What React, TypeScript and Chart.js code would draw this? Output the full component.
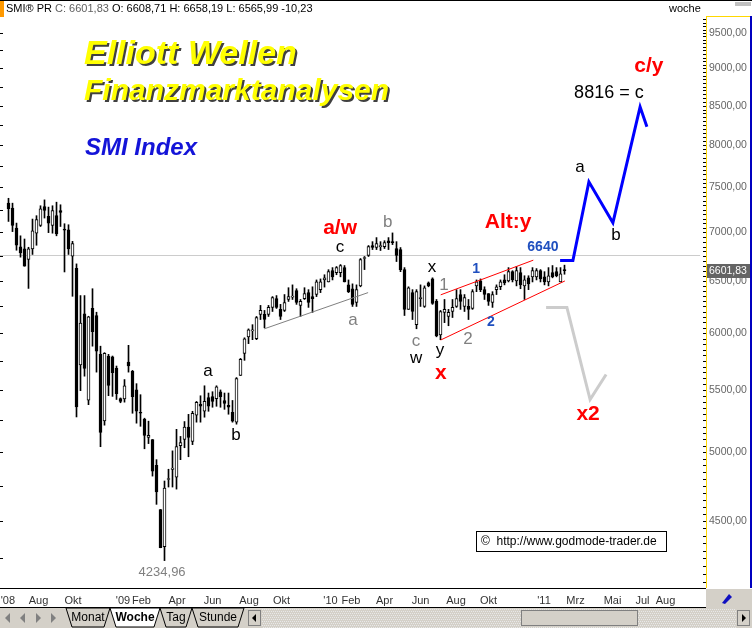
import React, { useEffect, useRef } from 'react';
import { Chart, registerables } from 'chart.js';

Chart.register(...registerables);

// Weekly SMI candles, week index 0 = week of 9 June 2008
const weekOpen = [7321,7266,7046,6847,6826,6716,6826,6992,7075,7284,7174,7075,7182,7237,7035,7028,6750,6626,5714,6180,5414,6231,6164,5808,5245,5793,5787,5685,5428,5425,5740,5658,5500,5315,5259,5114,5098,4900,4580,4326,4795,4870,4813,5050,5098,5195,5082,5291,5380,5323,5436,5444,5426,5484,5412,5372,5315,5235,5623,5816,5966,6020,5948,6174,6174,6174,6241,6326,6222,6212,6317,6340,6403,6260,6326,6384,6345,6365,6413,6509,6489,6602,6582,6582,6633,6460,6422,6288,6450,6726,6757,6861,6840,6850,6850,6912,6902,6830,6819,6612,6222,6384,6078,6326,6250,6479,6520,6298,5983,6193,6155,6202,6250,6365,6250,6250,6231,6450,6499,6413,6374,6288,6413,6441,6509,6499,6592,6499,6582,6450,6530,6540,6540,6602,6540,6489,6582,6592,6489,6609];
const weekHigh = [7376,7321,7101,6964,6930,6843,7145,7182,7292,7358,7277,7292,7332,7303,7094,7083,6905,6671,6355,6355,6157,6422,6195,5881,5823,5808,5793,5705,5433,5588,5889,5667,5553,5460,5267,5243,5098,4943,4580,4784,4871,5010,5178,5122,5240,5298,5323,5404,5451,5535,5474,5485,5535,5500,5474,5474,5412,5605,5772,5957,6039,6078,6155,6260,6212,6260,6345,6355,6270,6365,6432,6460,6422,6317,6432,6413,6441,6509,6519,6561,6612,6633,6644,6664,6654,6509,6470,6460,6726,6747,6861,6902,6945,6902,6912,6945,6995,6902,6840,6633,6441,6413,6413,6460,6450,6489,6530,6317,6212,6317,6222,6317,6413,6413,6365,6317,6413,6509,6519,6441,6374,6393,6460,6509,6561,6633,6602,6644,6633,6551,6551,6633,6623,6613,6592,6633,6654,6633,6633,6658];
const weekLow = [7119,7009,6812,6740,6647,6425,6768,6864,7064,7156,6998,6992,6964,7064,6589,6768,6348,5277,5494,5617,5377,5881,5652,5042,5211,5452,5446,5420,5393,5398,5652,5307,5227,5202,5026,5066,4820,4616,4319,4235,4740,4740,4725,4943,5034,4965,5058,5235,5235,5275,5323,5356,5364,5356,5339,5299,5235,5219,5623,5755,5904,5940,5940,6126,6049,6155,6202,6231,6126,6202,6298,6317,6270,6155,6317,6241,6193,6345,6384,6438,6489,6509,6561,6540,6489,6384,6250,6250,6441,6613,6747,6819,6819,6809,6830,6819,6871,6695,6592,6164,6222,6126,6040,6250,6241,6441,6270,5966,5940,6097,6068,6145,6241,6222,6202,6126,6222,6393,6393,6317,6260,6241,6365,6413,6460,6489,6489,6450,6422,6317,6413,6489,6509,6489,6460,6450,6530,6540,6489,6566];
const weekClose = [7259,7075,6864,6785,6647,6826,7017,7138,7259,7240,7101,7237,6985,7218,7024,6826,6881,5358,6094,5685,6151,6013,5837,5154,5816,5538,5647,5468,5404,5535,5705,5444,5323,5307,5130,5130,4856,4704,4319,4733,4800,4880,5042,5074,5195,5114,5307,5396,5364,5404,5364,5404,5526,5444,5388,5356,5243,5597,5764,5948,6030,6030,6145,6212,6126,6241,6336,6241,6155,6288,6345,6348,6288,6298,6374,6288,6326,6489,6489,6530,6592,6540,6633,6654,6489,6393,6270,6413,6716,6736,6850,6840,6881,6861,6892,6892,6892,6757,6612,6222,6432,6202,6393,6336,6432,6450,6279,5974,6202,6222,6193,6241,6326,6298,6336,6222,6393,6489,6413,6365,6298,6365,6441,6489,6479,6592,6509,6602,6460,6509,6470,6602,6602,6519,6489,6551,6540,6551,6571,6602];

// x-axis month labels (position in weeks)
const monthTickWeeks = [-0.15, 7.5, 16.125, 28.625, 33.25, 42.125, 51, 60.125, 68.25, 80.5, 85.625, 94, 103, 111.875, 120, 133.875, 141.75, 151, 158.5, 164.25];
const monthTickLabels = ["'08", 'Aug', 'Okt', "'09", 'Feb', 'Apr', 'Jun', 'Aug', 'Okt', "'10", 'Feb', 'Apr', 'Jun', 'Aug', 'Okt', "'11", 'Mrz', 'Mai', 'Jul', 'Aug'];
const priceTicks = [4500, 5000, 5500, 6000, 6500, 7000, 7500, 8000, 8500, 9000, 9500];

// drawn lines (week, level)
const supportWeeks = [63.9, 89.9];
const supportLevels = [6039, 6384];
const channelUpperWeeks = [108.05, 131.2];
const channelUpperLevels = [6362, 6709];
const channelLowerWeeks = [108.05, 139.1];
const channelLowerLevels = [5937, 6499];
const bluePathWeeks = [137.9, 141.1, 145.1, 151.1, 157.9, 159.6];
const bluePathLevels = [6706, 6706, 7564, 7105, 8484, 8231];
const grayPathWeeks = [134.4, 139.6, 145.4, 149.4];
const grayPathLevels = [6240, 6240, 5420, 5632];
const refLineWeeks = [-2.2, 172.9];
const refLineLevels = [6757, 6757];

// wave labels: text, week, level, style
const waveLabels = [
  { t: '4234,96', w: 38.4, v: 4162, s: 'low' },
  { t: 'a', w: 49.9, v: 5658, s: 'k' },
  { t: 'b', w: 56.9, v: 5130, s: 'k' },
  { t: 'c', w: 82.9, v: 6840, s: 'k' },
  { t: 'a/w', w: 82.9, v: 7050, s: 'r' },
  { t: 'a', w: 86.1, v: 6116, s: 'g' },
  { t: 'b', w: 94.8, v: 7110, s: 'g' },
  { t: 'c', w: 101.9, v: 5925, s: 'g' },
  { t: 'w', w: 101.9, v: 5770, s: 'k' },
  { t: 'x', w: 105.9, v: 6633, s: 'k' },
  { t: 'y', w: 107.9, v: 5843, s: 'k' },
  { t: 'x', w: 108.1, v: 5640, s: 'r' },
  { t: '1', w: 108.9, v: 6460, s: 'g' },
  { t: '1', w: 116.9, v: 6613, s: 'b' },
  { t: '2', w: 120.6, v: 6106, s: 'b' },
  { t: '2', w: 114.9, v: 5940, s: 'g' },
  { t: 'Alt:y', w: 124.9, v: 7115, s: 'r' },
  { t: '6640', w: 133.6, v: 6840, s: 'b' },
  { t: 'a', w: 142.9, v: 7730, s: 'k' },
  { t: 'b', w: 151.9, v: 6965, s: 'k' },
  { t: '8816 = c', w: 150.1, v: 8670, s: 'kl' },
  { t: 'c/y', w: 160.1, v: 9034, s: 'r' },
  { t: 'x2', w: 144.9, v: 5300, s: 'r' },
];

const FONT = '"Liberation Sans", Arial, Helvetica, sans-serif';

const labelStyles: Record<string, { font: string; color: string }> = {
  low: { font: `13px ${FONT}`, color: '#808080' },
  k: { font: `17px ${FONT}`, color: '#000000' },
  kl: { font: `18px ${FONT}`, color: '#000000' },
  g: { font: `17px ${FONT}`, color: '#808080' },
  r: { font: `bold 21px ${FONT}`, color: '#ff0000' },
  b: { font: `bold 14px ${FONT}`, color: '#1f4fbf' },
};

const xy = (ws: number[], vs: number[]) => ws.map((w, i) => ({ x: w, y: vs[i] }));

export default function App() {
  const ref = useRef<HTMLCanvasElement>(null);
  useEffect(() => {
    document.body.style.margin = '0';
    const canvas = ref.current!;
    const up = weekClose.map((c, i) => c >= weekOpen[i]);

    const decor = {
      id: 'decor',
      beforeDraw(chart: any) {
        const ctx = chart.ctx;
        ctx.save();
        ctx.fillStyle = '#ffffff';
        ctx.fillRect(0, 0, 752, 628);
        ctx.restore();
      },
      afterDatasetsDraw(chart: any) {
        const ctx = chart.ctx;
        const xs = chart.scales.x;
        const ys = chart.scales.y;
        ctx.save();
        ctx.textAlign = 'center';
        ctx.textBaseline = 'middle';
        for (const l of waveLabels) {
          const st = labelStyles[l.s];
          ctx.font = st.font;
          ctx.fillStyle = st.color;
          ctx.fillText(l.t, xs.getPixelForValue(l.w), ys.getPixelForValue(l.v));
        }
        // titles
        ctx.textAlign = 'left';
        ctx.textBaseline = 'alphabetic';
        const shadowText = (t: string, x: number, y: number, font: string, col: string) => {
          ctx.font = font;
          ctx.fillStyle = '#404040';
          ctx.fillText(t, x + 2, y + 2);
          ctx.fillStyle = col;
          ctx.fillText(t, x, y);
        };
        shadowText('Elliott Wellen', 84, 64, `italic bold 34px ${FONT}`, '#ffff00');
        shadowText('Finanzmarktanalysen', 84, 100, `italic bold 30px ${FONT}`, '#ffff00');
        ctx.font = `italic bold 24px ${FONT}`;
        ctx.fillStyle = '#1414d8';
        ctx.fillText('SMI Index', 85, 155);
        // copyright box
        ctx.fillStyle = '#ffffff';
        ctx.fillRect(476, 531, 190, 20);
        ctx.strokeStyle = '#000000';
        ctx.lineWidth = 1;
        ctx.strokeRect(476.5, 531.5, 190, 20);
        ctx.font = `12px ${FONT}`;
        ctx.fillStyle = '#000000';
        ctx.textBaseline = 'middle';
        ctx.fillText('\u00a9  http://www.godmode-trader.de', 481, 542);
        ctx.restore();
      },
      afterDraw(chart: any) {
        const ctx = chart.ctx;
        const ys = chart.scales.y;
        const area = chart.chartArea;
        ctx.save();
        // header
        ctx.fillStyle = '#ff9900';
        ctx.fillRect(0, 1, 4, 16);
        ctx.fillStyle = '#000000';
        ctx.fillRect(0, 0, 752, 1);
        ctx.font = `11px ${FONT}`;
        ctx.textBaseline = 'middle';
        ctx.textAlign = 'left';
        let x = 6;
        const part = (t: string, c: string) => {
          ctx.fillStyle = c;
          ctx.fillText(t, x, 9);
          x += ctx.measureText(t).width;
        };
        part('SMI\u00ae PR ', '#000000');
        part('C: 6601,83 ', '#606060');
        part('O: 6608,71 H: 6658,19 L: 6565,99 -10,23', '#000000');
        ctx.fillStyle = '#000000';
        ctx.fillText('woche', 669, 9);
        ctx.fillStyle = '#c0c0c0';
        ctx.fillRect(735, 2, 16, 4);
        // right axis frame
        ctx.fillStyle = '#ffd700';
        ctx.fillRect(706, 16, 1, area.bottom - 16);
        ctx.fillRect(706, 16, 45, 1);
        ctx.fillStyle = '#0000c0';
        ctx.fillRect(750, 16, 2, area.bottom - 16);
        // minor ticks
        ctx.fillStyle = '#000000';
        for (let v = 4100; v <= 9700; v += 50) {
          const py = Math.round(ys.getPixelForValue(v));
          if (py < area.top || py > area.bottom) continue;
          ctx.fillRect(703, py, 3, 1);
        }
        for (let v = 4250; v <= 9750; v += 250) {
          const py = Math.round(ys.getPixelForValue(v));
          if (py < area.top || py > area.bottom) continue;
          ctx.fillRect(0, py, 3, 1);
        }
        // last price box
        const lp = Math.round(ys.getPixelForValue(weekClose[weekClose.length - 1]));
        ctx.fillStyle = '#646464';
        ctx.fillRect(707, lp - 7, 43, 14);
        ctx.fillStyle = '#ffffff';
        ctx.font = `10.5px ${FONT}`;
        ctx.fillText('6601,83', 709, lp);
        // bottom axis borders
        ctx.fillStyle = '#000000';
        ctx.fillRect(0, area.bottom, 706, 1);
        ctx.fillRect(0, 607, 706, 1);
        ctx.fillStyle = '#d4d0c8';
        ctx.fillRect(706, area.bottom + 1, 46, 19);
        ctx.fillStyle = '#1010c0';
        ctx.beginPath(); ctx.moveTo(722, 603); ctx.lineTo(729, 594); ctx.lineTo(732, 597); ctx.lineTo(725, 604); ctx.closePath(); ctx.fill();
        // tab bar
        ctx.fillStyle = '#d4d0c8';
        ctx.fillRect(0, 608, 752, 20);
        ctx.fillStyle = '#e8e8e8';
        for (let yy = 609; yy < 628; yy += 2) {
          for (let xx = 262 + (yy % 4 === 1 ? 0 : 1); xx < 736; xx += 2) ctx.fillRect(xx, yy, 1, 1);
        }
        ctx.fillStyle = '#d4d0c8';
        ctx.fillRect(521, 610, 117, 16);
        ctx.strokeStyle = '#808080';
        ctx.strokeRect(521.5, 610.5, 116, 15);
        ctx.fillStyle = '#d4d0c8';
        ctx.fillRect(248, 610, 13, 16);
        ctx.fillRect(737, 610, 13, 16);
        ctx.strokeRect(248.5, 610.5, 12, 15);
        ctx.strokeRect(737.5, 610.5, 12, 15);
        ctx.fillStyle = '#000000';
        ctx.beginPath(); ctx.moveTo(252, 618); ctx.lineTo(256, 614); ctx.lineTo(256, 622); ctx.fill();
        ctx.beginPath(); ctx.moveTo(746, 618); ctx.lineTo(742, 614); ctx.lineTo(742, 622); ctx.fill();
        ctx.fillStyle = '#808080';
        const navs = [2, 17, 32, 47];
        navs.forEach((nx, i) => {
          ctx.beginPath();
          if (i < 2) { ctx.moveTo(nx + 3, 618); ctx.lineTo(nx + 8, 613); ctx.lineTo(nx + 8, 623); }
          else { ctx.moveTo(nx + 9, 618); ctx.lineTo(nx + 4, 613); ctx.lineTo(nx + 4, 623); }
          ctx.fill();
        });
        const tabs = [
          { t: 'Monat', x0: 66, x1: 110, b: false },
          { t: 'Woche', x0: 110, x1: 160, b: true },
          { t: 'Tag', x0: 160, x1: 192, b: false },
          { t: 'Stunde', x0: 192, x1: 244, b: false },
        ];
        for (const tb of tabs) {
          ctx.fillStyle = tb.b ? '#ffffff' : '#d4d0c8';
          ctx.beginPath();
          ctx.moveTo(tb.x0, 608); ctx.lineTo(tb.x0 + 6, 627); ctx.lineTo(tb.x1 - 6, 627); ctx.lineTo(tb.x1, 608);
          ctx.closePath();
          ctx.fill();
          ctx.strokeStyle = '#000000';
          ctx.stroke();
          ctx.fillStyle = '#000000';
          ctx.font = `${tb.b ? 'bold ' : ''}12px ${FONT}`;
          ctx.textAlign = 'center';
          ctx.fillText(tb.t, (tb.x0 + tb.x1) / 2, 618);
        }
        ctx.restore();
      },
    };

    const chart = new Chart(canvas, {
      type: 'bar',
      data: {
        datasets: [
          {
            type: 'line',
            data: xy(refLineWeeks, refLineLevels),
            borderColor: '#cccccc', borderWidth: 1, pointRadius: 0, order: 5,
          } as any,
          {
            type: 'bar',
            data: weekOpen.map((o, i) => ({ x: i, y: [o, weekClose[i]] })),
            backgroundColor: up.map((u) => (u ? '#ffffff' : '#000000')),
            borderColor: '#000000', borderWidth: 1, borderSkipped: false,
            barThickness: 3, minBarLength: 1, grouped: false, order: 1,
          },
          {
            type: 'bar',
            data: weekLow.map((l, i) => ({ x: i, y: [l, weekHigh[i]] })),
            backgroundColor: '#000000', borderWidth: 0,
            barThickness: 1, minBarLength: 1, grouped: false, order: 2,
          },
          { type: 'line', data: xy(supportWeeks, supportLevels), borderColor: '#808080', borderWidth: 1, pointRadius: 0, order: 0 } as any,
          { type: 'line', data: xy(channelUpperWeeks, channelUpperLevels), borderColor: '#ff0000', borderWidth: 1, pointRadius: 0, order: 0 } as any,
          { type: 'line', data: xy(channelLowerWeeks, channelLowerLevels), borderColor: '#ff0000', borderWidth: 1, pointRadius: 0, order: 0 } as any,
          { type: 'line', data: xy(grayPathWeeks, grayPathLevels), borderColor: '#cccccc', borderWidth: 3, pointRadius: 0, order: 0 } as any,
          { type: 'line', data: xy(bluePathWeeks, bluePathLevels), borderColor: '#0000ff', borderWidth: 3, pointRadius: 0, order: 0 } as any,
        ],
      },
      options: {
        responsive: false,
        maintainAspectRatio: false,
        devicePixelRatio: 1,
        animation: false,
        events: [],
        layout: { padding: { left: 0, right: 0, top: 17, bottom: 20 } },
        plugins: { legend: { display: false }, tooltip: { enabled: false }, title: { display: false } },
        scales: {
          x: {
            type: 'linear',
            min: -2.125,
            max: 174.375,
            offset: false,
            grid: { display: false, drawTicks: false },
            border: { display: false },
            afterFit: (s: any) => { s.height = 20; s.paddingLeft = 0; s.paddingRight = 0; },
            afterBuildTicks: (s: any) => { s.ticks = monthTickWeeks.map((v) => ({ value: v })); },
            ticks: {
              autoSkip: false, maxRotation: 0, padding: 6,
              color: '#333333', font: { family: FONT, size: 11 },
              callback: (_v: any, i: number) => monthTickLabels[i],
            },
          },
          y: {
            type: 'logarithmic',
            position: 'right',
            min: 4061,
            max: 9736,
            grid: { display: false, drawTicks: false },
            border: { display: false },
            afterFit: (s: any) => { s.width = 46; s.paddingTop = 0; s.paddingBottom = 0; },
            afterBuildTicks: (s: any) => { s.ticks = priceTicks.map((v) => ({ value: v })); },
            ticks: {
              padding: 3, color: '#666666', font: { family: FONT, size: 10.5 },
              callback: (v: any) => Number(v).toFixed(2).replace('.', ','),
            },
          },
        },
      },
      plugins: [decor],
    } as any);
    return () => chart.destroy();
  }, []);
  return (
    <div style={{ position: 'absolute', left: 0, top: 0, width: 752, height: 628 }}>
      <canvas ref={ref} width={752} height={628} style={{ display: 'block', width: 752, height: 628 }} />
    </div>
  );
}
